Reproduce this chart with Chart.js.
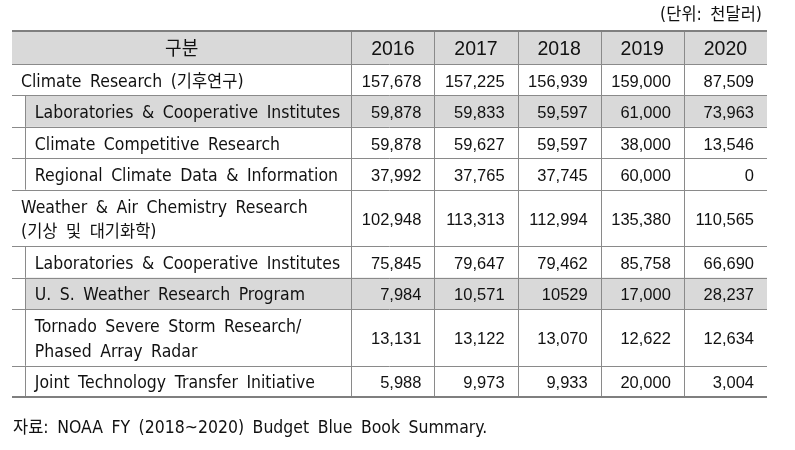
<!DOCTYPE html>
<html><head><meta charset="utf-8">
<script src="https://cdn.jsdelivr.net/npm/chart.js@4"></script>
<style>html,body{margin:0;padding:0;background:#fff}#wrap{width:795px;height:450px}</style>
</head><body><div id="wrap"><canvas id="c" width="795" height="450"></canvas></div>
<script>
// ---- data ----
const headerLabel = '구분';
const years = ['2016', '2017', '2018', '2019', '2020'];
const rowLabels = [
  ['Climate Research (기후연구)'],
  ['Laboratories & Cooperative Institutes'],
  ['Climate Competitive Research'],
  ['Regional Climate Data & Information'],
  ['Weather & Air Chemistry Research', '(기상 및 대기화학)'],
  ['Laboratories & Cooperative Institutes'],
  ['U. S. Weather Research Program'],
  ['Tornado Severe Storm Research/', 'Phased Array Radar'],
  ['Joint Technology Transfer Initiative']
];
const rowLevel = [0, 1, 1, 1, 0, 1, 1, 1, 1];
const rowShaded = [false, true, false, false, false, false, true, false, false];
const v2016 = [157678, 59878, 59878, 37992, 102948, 75845, 7984, 13131, 5988];
const v2017 = [157225, 59833, 59627, 37765, 113313, 79647, 10571, 13122, 9973];
const v2018 = [156939, 59597, 59597, 37745, 112994, 79462, 10529, 13070, 9933];
const v2019 = [159000, 61000, 38000, 60000, 135380, 85758, 17000, 12622, 20000];
const v2020 = [87509, 73963, 13546, 0, 110565, 66690, 28237, 12634, 3004];
const plainCells = [[6, 2]]; // [row, yearIndex] printed without thousands separator
const unitText = '(단위: 천달러)';
const sourceText = '자료: NOAA FY (2018~2020) Budget Blue Book Summary.';

const seriesValues = [v2016, v2017, v2018, v2019, v2020];

// ---- grid geometry in table units ----
const LABEL_W = 4.08, INDENT_W = 0.16;
const HEADER_H = 1.05;
const rowH = rowLabels.map(l => l.length > 1 ? 1.8 : 1);
const rowTop = [];
{ let t = HEADER_H; rowH.forEach(h => { rowTop.push(t); t += h; }); }
const TOTAL_H = HEADER_H + rowH.reduce((a, b) => a + b, 0);
const TOTAL_W = LABEL_W + years.length;

// ---- text styles ----
const LATIN = { font: '17px "DejaVu Sans"', sx: 0.925 };
const HANGUL = { font: '17px "Noto Sans CJK KR"', sx: 0.97 };
const WORD_GAP = 8.5;
const NUM_FONT = '17px "Liberation Sans"', NUM_SX = 0.97;
const isHangul = ch => /[\u1100-\u11FF\u3130-\u318F\uAC00-\uD7AF]/.test(ch);
const fmt = (v, r, c) => plainCells.some(p => p[0] === r && p[1] === c) ? String(v) : v.toLocaleString('en-US');

function runs(ctx, text) {
  const out = [];
  text.split(' ').forEach((w, wi) => {
    if (wi > 0) out.push({ gap: true, w: WORD_GAP });
    let cur = '', curH = null;
    const flush = () => {
      if (!cur) return;
      const st = curH ? HANGUL : LATIN;
      ctx.font = st.font;
      out.push({ s: cur, st, w: ctx.measureText(cur).width * st.sx });
      cur = '';
    };
    for (const ch of w) {
      const h = isHangul(ch);
      if (cur && h !== curH) flush();
      curH = h; cur += ch;
    }
    flush();
  });
  return out;
}
function richWidth(ctx, text) { return runs(ctx, text).reduce((a, r) => a + r.w, 0); }
function drawRich(ctx, text, x, y) {
  let cx = x;
  runs(ctx, text).forEach(r => {
    if (!r.gap) {
      ctx.save(); ctx.font = r.st.font; ctx.translate(cx, y); ctx.scale(r.st.sx, 1);
      ctx.fillText(r.s, 0, 0); ctx.restore();
    }
    cx += r.w;
  });
}

const tablePlugin = {
  id: 'tablePlugin',
  afterDraw(chart) {
    const ctx = chart.ctx, xs = chart.scales.x, ys = chart.scales.y;
    const X = v => xs.getPixelForValue(v), Y = v => ys.getPixelForValue(v);
    const L = X(0), R = X(TOTAL_W), T = Y(0), B = Y(TOTAL_H);
    ctx.save();
    // fills
    ctx.fillStyle = '#d9d9d9';
    ctx.fillRect(L, T, R - L, Y(HEADER_H) - T);
    rowShaded.forEach((s, i) => {
      if (s) ctx.fillRect(X(INDENT_W), Y(rowTop[i]), R - X(INDENT_W), Y(rowTop[i] + rowH[i]) - Y(rowTop[i]));
    });
    // lines
    const crisp = p => Math.round(p) + 0.5;
    ctx.strokeStyle = '#8a8a8a'; ctx.lineWidth = 1;
    ctx.beginPath();
    const hl = [HEADER_H, ...rowTop.slice(1)];
    hl.forEach(u => { const y = crisp(Y(u)); ctx.moveTo(L, y); ctx.lineTo(R, y); });
    for (let j = 0; j < years.length; j++) { const x = crisp(X(LABEL_W + j)); ctx.moveTo(x, T); ctx.lineTo(x, B); }
    rowLevel.forEach((lv, i) => {
      if (lv === 1) { const x = crisp(X(INDENT_W)); ctx.moveTo(x, Y(rowTop[i])); ctx.lineTo(x, Y(rowTop[i] + rowH[i])); }
    });
    ctx.stroke();
    ctx.strokeStyle = '#7f7f7f'; ctx.lineWidth = 2;
    ctx.beginPath(); ctx.moveTo(L, Math.round(T)); ctx.lineTo(R, Math.round(T));
    ctx.moveTo(L, Math.round(B)); ctx.lineTo(R, Math.round(B)); ctx.stroke();

    ctx.fillStyle = '#111';
    ctx.textBaseline = 'alphabetic';
    // header text
    const hb = Y(HEADER_H / 2) + 7.5;
    ctx.textAlign = 'center';
    ctx.save(); ctx.font = '19px "Noto Sans CJK KR"'; ctx.translate(X(LABEL_W / 2), hb); ctx.scale(0.95, 1);
    ctx.fillText(headerLabel, 0, 0); ctx.restore();
    ctx.font = '19.5px "Liberation Sans"';
    years.forEach((yr, j) => ctx.fillText(yr, X(LABEL_W + j + 0.5), hb));

    // row labels
    ctx.textAlign = 'left';
    rowLabels.forEach((lines, i) => {
      const cy = Y(rowTop[i] + rowH[i] / 2) + 7;
      const x = rowLevel[i] === 0 ? L + 9 : X(INDENT_W) + 9.5;
      lines.forEach((ln, k) => {
        drawRich(ctx, ln, x, cy + (k - (lines.length - 1) / 2) * 24.5);
      });
    });

    // values positioned by the dataset elements
    chart.data.datasets.forEach((ds, j) => {
      const meta = chart.getDatasetMeta(j);
      const halfW = (X(1) - X(0)) / 2;
      meta.data.forEach((pt, i) => {
        const s = fmt(ds.data[i].v, i, j);
        ctx.save(); ctx.font = NUM_FONT; ctx.textAlign = 'right';
        ctx.translate(pt.x + halfW - 13, pt.y + 7); ctx.scale(NUM_SX, 1);
        ctx.fillText(s, 0, 0); ctx.restore();
      });
    });

    // unit and source
    drawRich(ctx, unitText, R - 5 - richWidth(ctx, unitText), 20);
    drawRich(ctx, sourceText, L + 1, B + 36);
    ctx.restore();
  }
};

new Chart(document.getElementById('c'), {
  type: 'scatter',
  data: {
    datasets: years.map((yr, j) => ({
      label: yr,
      data: seriesValues[j].map((v, i) => ({ x: LABEL_W + j + 0.5, y: rowTop[i] + rowH[i] / 2, v })),
      pointRadius: 0, pointHoverRadius: 0
    }))
  },
  options: {
    responsive: false, animation: false, events: [],
    layout: { padding: { left: 12, right: 28, top: 31, bottom: 53 } },
    plugins: { legend: { display: false }, tooltip: { enabled: false } },
    scales: {
      x: { type: 'linear', min: 0, max: TOTAL_W, display: false },
      y: { type: 'linear', min: 0, max: TOTAL_H, reverse: true, display: false }
    }
  },
  plugins: [tablePlugin]
});
</script></body></html>
